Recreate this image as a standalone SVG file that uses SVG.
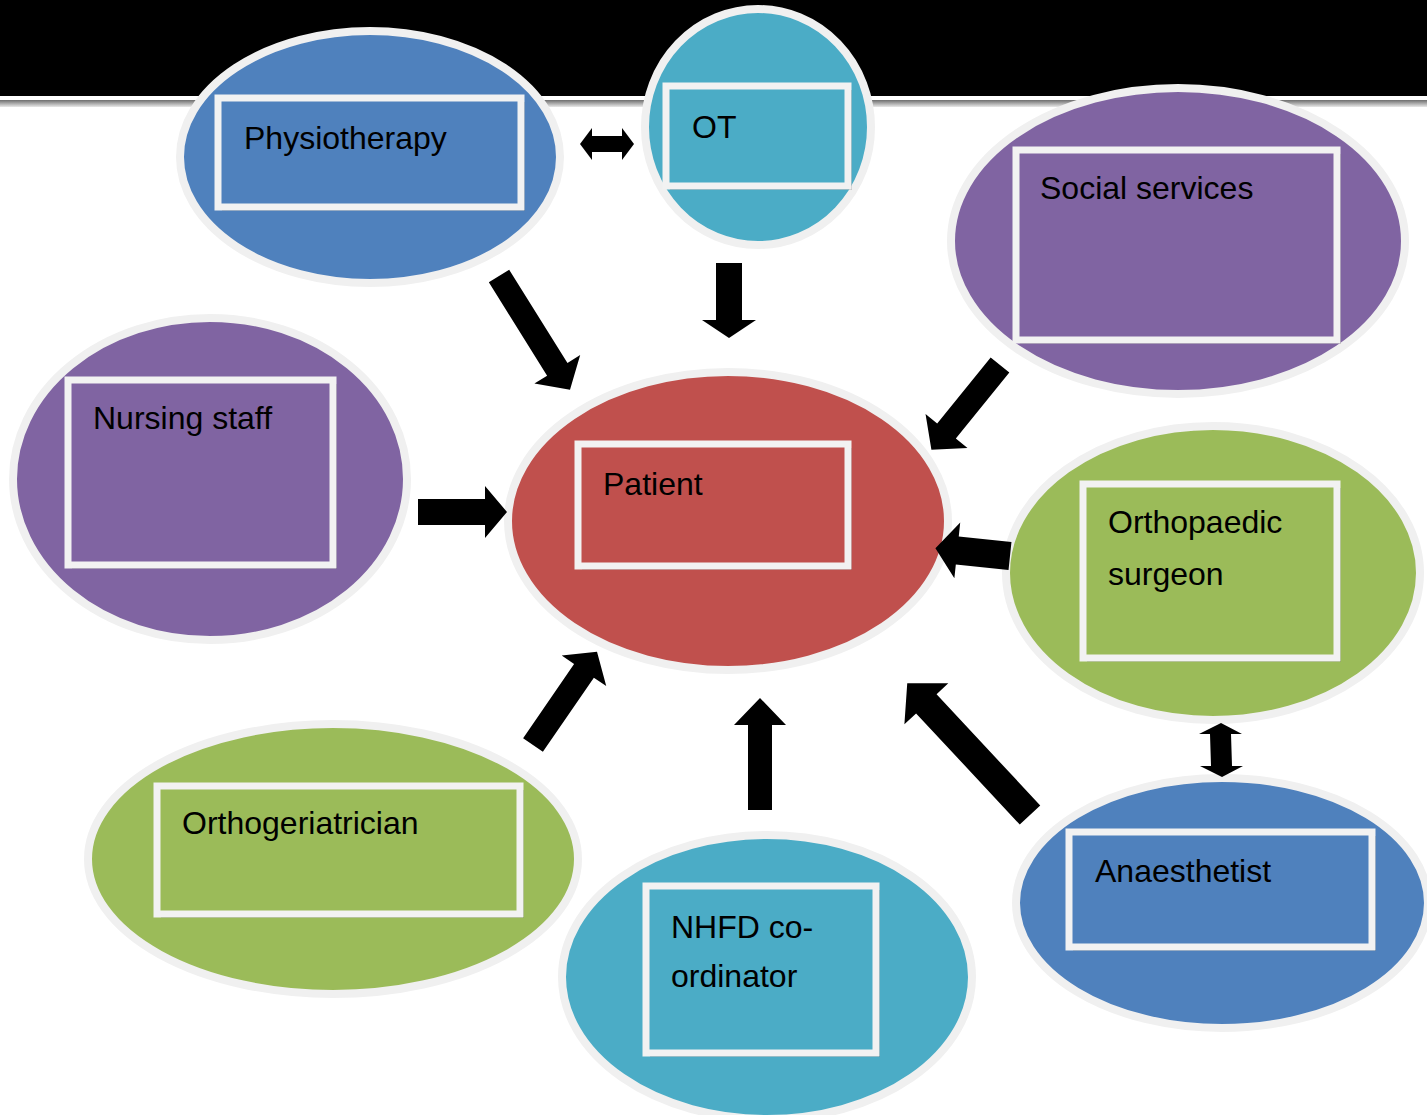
<svg xmlns="http://www.w3.org/2000/svg" width="1427" height="1115" viewBox="0 0 1427 1115">
<defs>
<linearGradient id="ln" x1="0" y1="0" x2="0" y2="1"><stop offset="0" stop-color="#6e6e6e"/><stop offset="1" stop-color="#e8e8e8"/></linearGradient>
<style>
.ell{stroke:#f0f0f0;stroke-width:8}
.box{stroke:#f2f2f2;stroke-width:7}
.sh{fill:#000;opacity:0.22}
.lbl{font-family:"Liberation Sans",Arial,sans-serif;font-size:32px;fill:#000}
.arr{fill:#000}
.blue{fill:#4f81bd}.teal{fill:#4bacc6}.purple{fill:#8064a2}.red{fill:#c0504d}.green{fill:#9bbb59}
</style>
</defs>
<rect x="0" y="0" width="1427" height="96" fill="#000"/>
<rect x="0" y="100" width="1427" height="7" fill="url(#ln)"/>

<g id="physiotherapy">
<ellipse class="ell blue" cx="370" cy="157" rx="190" ry="126"/>
<rect class="sh" x="222" y="102" width="303" height="109"/>
<rect class="box blue" x="218" y="98" width="303" height="109"/>
<text class="lbl" x="244" y="149">Physiotherapy</text>
</g>
<g id="ot">
<ellipse class="ell teal" cx="758" cy="127" rx="113" ry="118"/>
<rect class="sh" x="670" y="90" width="182" height="100"/>
<rect class="box teal" x="666" y="86" width="182" height="100"/>
<text class="lbl" x="692" y="138">OT</text>
</g>
<g id="social-services">
<ellipse class="ell purple" cx="1178" cy="241" rx="227" ry="153"/>
<rect class="sh" x="1020" y="154" width="321" height="190"/>
<rect class="box purple" x="1016" y="150" width="321" height="190"/>
<text class="lbl" x="1040" y="199">Social services</text>
</g>
<g id="nursing-staff">
<ellipse class="ell purple" cx="210" cy="479" rx="197" ry="161"/>
<rect class="sh" x="72" y="384" width="265" height="185"/>
<rect class="box purple" x="68" y="380" width="265" height="185"/>
<text class="lbl" x="93" y="429">Nursing staff</text>
</g>
<g id="patient">
<ellipse class="ell red" cx="728" cy="521" rx="220" ry="149"/>
<rect class="sh" x="582" y="448" width="270" height="122"/>
<rect class="box red" x="578" y="444" width="270" height="122"/>
<text class="lbl" x="603" y="495">Patient</text>
</g>
<g id="orthopaedic-surgeon">
<ellipse class="ell green" cx="1213" cy="573" rx="207" ry="147"/>
<rect class="sh" x="1087" y="488" width="254" height="174"/>
<rect class="box green" x="1083" y="484" width="254" height="174"/>
<text class="lbl" x="1108" y="533">Orthopaedic</text>
<text class="lbl" x="1108" y="585">surgeon</text>
</g>
<g id="orthogeriatrician">
<ellipse class="ell green" cx="333" cy="859" rx="245" ry="135"/>
<rect class="sh" x="161" y="790" width="363" height="128"/>
<rect class="box green" x="157" y="786" width="363" height="128"/>
<text class="lbl" x="182" y="834">Orthogeriatrician</text>
</g>
<g id="nhfd-coordinator">
<ellipse class="ell teal" cx="767" cy="977" rx="205" ry="142"/>
<rect class="sh" x="650" y="890" width="230" height="167"/>
<rect class="box teal" x="646" y="886" width="230" height="167"/>
<text class="lbl" x="671" y="938">NHFD co-</text>
<text class="lbl" x="671" y="987">ordinator</text>
</g>
<g id="anaesthetist">
<ellipse class="ell blue" cx="1222" cy="903" rx="206" ry="125"/>
<rect class="sh" x="1073" y="836" width="303" height="115"/>
<rect class="box blue" x="1069" y="832" width="303" height="115"/>
<text class="lbl" x="1095" y="882">Anaesthetist</text>
</g>

<g id="connectors">
<polygon class="arr" transform="translate(499,276) rotate(58)" points="0,-12 110,-12 110,-27 134,0 110,27 110,12 0,12"/>
<polygon class="arr" transform="translate(729,263) rotate(90)" points="0,-13 57,-13 57,-27 75,0 57,27 57,13 0,13"/>
<polygon class="arr" transform="translate(1000,365) rotate(129)" points="0,-12 85,-12 85,-27 109,0 85,27 85,12 0,12"/>
<polygon class="arr" transform="translate(418,512) rotate(0)" points="0,-13 67,-13 67,-26 89,0 67,26 67,13 0,13"/>
<polygon class="arr" transform="translate(1010,556) rotate(186)" points="0,-14 53,-14 53,-28 75,0 53,28 53,14 0,14"/>
<polygon class="arr" transform="translate(533,745) rotate(-55.5)" points="0,-12 90,-12 90,-27 113,0 90,27 90,12 0,12"/>
<polygon class="arr" transform="translate(760,810) rotate(-90)" points="0,-12 85,-12 85,-26 112,0 85,26 85,12 0,12"/>
<polygon class="arr" transform="translate(1030,815) rotate(-133)" points="0,-14 152,-14 152,-30 180,0 152,30 152,14 0,14"/>
<polygon class="arr" points="580,144 592,128 592,136 622,136 622,128 634,144 622,160 622,152 592,152 592,160"/>
<polygon class="arr" points="1221,723 1242,734 1231,734 1232,766 1243,766 1222,777 1200,766 1211,766 1210,734 1199,734"/>
</g>
</svg>
